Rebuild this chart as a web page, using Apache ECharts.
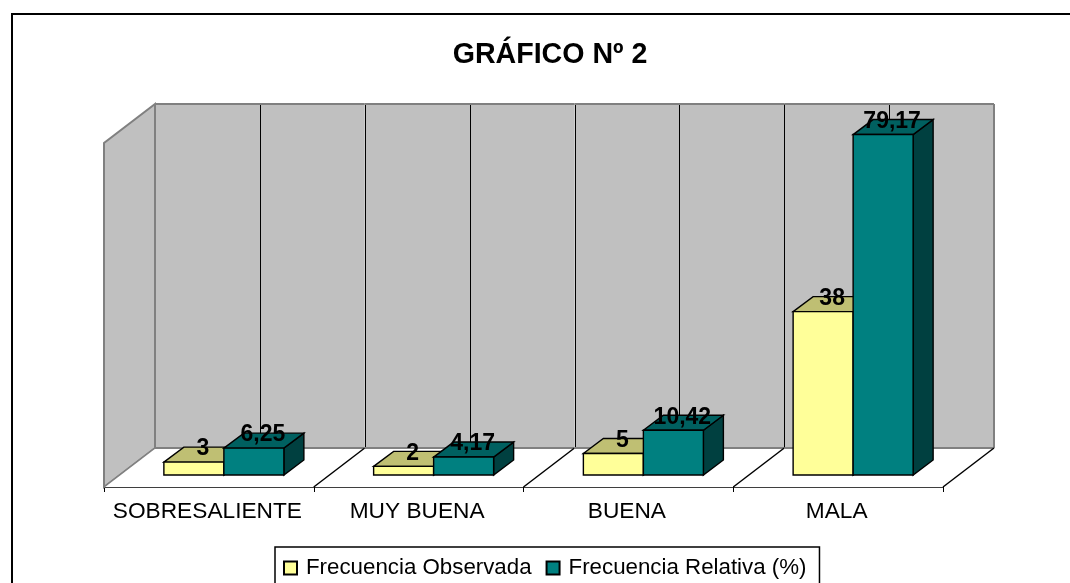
<!DOCTYPE html>
<html>
<head>
<meta charset="utf-8">
<style>html,body{margin:0;padding:0;background:#fff}#c{width:1070px;height:583px}</style>
<script src="https://cdn.jsdelivr.net/npm/echarts@6/dist/echarts.min.js"></script>
</head>
<body>
<div id="c"></div>
<script>
const categories = ['SOBRESALIENTE', 'MUY BUENA', 'BUENA', 'MALA'];
const observada = [3, 2, 5, 38];
const relativa = [6.25, 4.17, 10.42, 79.17];
const nameObs = 'Frecuencia Observada';
const nameRel = 'Frecuencia Relativa (%)';
const titleText = 'GRÁFICO Nº 2';

const FONT = '"Liberation Sans", Arial, sans-serif';
const WALL = {dx: 51, dy: -39};
const BAR_DEPTH = {dx: 20, dy: -15};
const BAR_OFFSET = {dx: 15, dy: -12};
const BAR_W = 60;

function poly(points, fill, stroke, lw) {
  return {type: 'polygon', shape: {points}, style: {fill, stroke, lineWidth: lw === undefined ? 1 : lw}};
}
function line(a, b, stroke, lw) {
  return {type: 'line', shape: {x1: a[0], y1: a[1], x2: b[0], y2: b[1]}, style: {stroke, lineWidth: lw, fill: null}};
}
function snap(x) { return Math.round(x) + 0.5; }
function renderWalls(params, api) {
  const i = api.value(0);
  const c = api.coord([i, 0]);
  const top = api.coord([i, 80])[1];
  const band = api.size([1, 0])[0];
  const l = c[0] - band / 2, r = c[0] + band / 2, m = c[0], b = c[1];
  const bk = (x, y) => [x + WALL.dx, y + WALL.dy];
  const ch = [];
  const grey = '#808080';
  const last = i === categories.length - 1;
  if (i === 0) {
    ch.push(poly([[l, b], [l, top], bk(l, top), bk(l, b)], '#c0c0c0', grey, 2));
  }
  ch.push(poly([bk(l, b), bk(l, top), bk(r, top), bk(r, b)], '#c0c0c0', null, 0));
  ch.push(poly([[l, b], [r, b], bk(r, b), bk(l, b)], '#ffffff', null, 0));
  const lx = snap(l + WALL.dx), mx = snap(m + WALL.dx);
  ch.push(line([mx, top + WALL.dy], [mx, b + WALL.dy], '#000', 1));
  if (i > 0) {
    ch.push(line([lx, top + WALL.dy], [lx, b + WALL.dy], '#000', 1));
    ch.push(line([l, b], bk(l, b), '#000', 1.5));
  }
  ch.push(line(bk(l, top), bk(r, top), grey, 2));
  ch.push(line(bk(l, b), bk(r, b), grey, 2));
  if (i === 0) {
    ch.push(line(bk(l, top), bk(l, b), grey, 2));
    ch.push(line([l, b], bk(l, b), grey, 1.5));
  }
  if (last) {
    ch.push(line(bk(r, top), bk(r, b), grey, 2));
    ch.push(line([r, b], bk(r, b), '#000', 1.5));
  }
  return {type: 'group', children: ch};
}
function barRenderer(side, front, topc, sidec) {
  return function (params, api) {
    const i = api.value(0), v = api.value(1);
    const base = api.coord([i, 0]), head = api.coord([i, v]);
    const cx = base[0] + BAR_OFFSET.dx;
    const x0 = side === 0 ? cx - BAR_W : cx, x1 = x0 + BAR_W;
    const yb = base[1] + BAR_OFFSET.dy, yt = head[1] + BAR_OFFSET.dy;
    const d = BAR_DEPTH;
    const text = String(v).replace('.', ',');
    return {type: 'group', children: [
      poly([[x1, yb], [x1, yt], [x1 + d.dx, yt + d.dy], [x1 + d.dx, yb + d.dy]], sidec, '#000', 1.4),
      poly([[x0, yt], [x1, yt], [x1 + d.dx, yt + d.dy], [x0 + d.dx, yt + d.dy]], topc, '#000', 1.4),
      poly([[x0, yb], [x1, yb], [x1, yt], [x0, yt]], front, '#000', 1.4),
      {type: 'text', z2: 100, style: {text, x: (x0 + x1) / 2 + d.dx / 2 - 1, y: yt - 13,
        align: 'center', verticalAlign: 'middle', fill: '#000',
        font: 'bold 23px ' + FONT}}
    ]};
  };
}
const chart = echarts.init(document.getElementById('c'), null, {renderer: 'canvas'});
chart.setOption({
  animation: false,
  backgroundColor: '#fff',
  title: {text: titleText, left: 545, top: 36, textAlign: 'center',
    textStyle: {fontFamily: FONT, fontWeight: 'bold', fontSize: 28.6, color: '#000'}},
  grid: {left: 104, top: 143, width: 839, height: 344, containLabel: false},
  xAxis: {type: 'category', data: categories,
    axisLine: {lineStyle: {color: '#000', width: 1.5}},
    axisTick: {show: true, length: 5, lineStyle: {color: '#000', width: 1}},
    axisLabel: {color: '#000', fontFamily: FONT, fontSize: 22.7, margin: 13, interval: 0, padding: [0, 3, 0, 0]},
    splitLine: {show: false}},
  yAxis: {type: 'value', min: 0, max: 80, interval: 10, show: false, splitLine: {show: false}},
  legend: {left: 275, top: 547, itemWidth: 13, itemHeight: 13, itemGap: 14, icon: 'rect',
    data: [nameObs, nameRel],
    padding: [10, 13, 8, 8], borderColor: '#000', borderWidth: 1.5,
    textStyle: {fontFamily: FONT, fontSize: 22.3, color: '#000', padding: [0, 0, 0, 4]}},
  graphic: [{type: 'rect', z: -1, silent: true, shape: {x: 12, y: 14, width: 1100, height: 620},
    style: {fill: 'transparent', stroke: '#000', lineWidth: 2}}],
  series: [
    {type: 'custom', name: 'walls', z: 1, silent: true, renderItem: renderWalls,
      encode: {x: 0, y: 1}, data: categories.map((c, i) => [i, 0])},
    {type: 'custom', name: nameObs, z: 3, itemStyle: {color: '#FFFF99', borderColor: '#000', borderWidth: 1},
      renderItem: barRenderer(0, '#FFFF99', '#BFBF73', '#BFBF73'),
      encode: {x: 0, y: 1}, data: observada.map((v, i) => [i, v])},
    {type: 'custom', name: nameRel, z: 4, itemStyle: {color: '#008080', borderColor: '#000', borderWidth: 1},
      renderItem: barRenderer(1, '#008080', '#006060', '#004040'),
      encode: {x: 0, y: 1}, data: relativa.map((v, i) => [i, v])}
  ]
});
</script>
</body>
</html>
